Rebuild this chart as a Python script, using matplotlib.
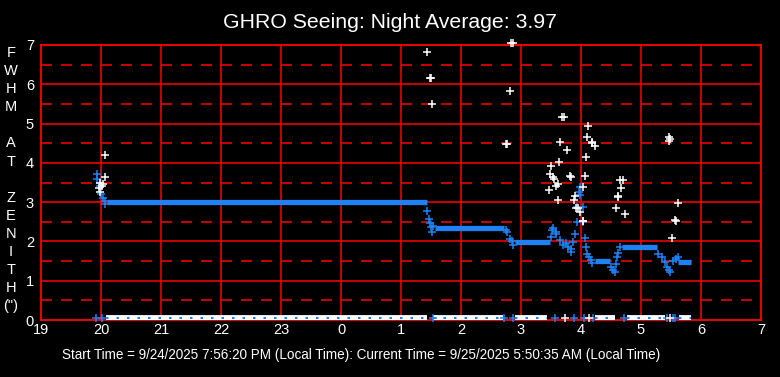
import matplotlib
matplotlib.use("Agg")
import matplotlib.pyplot as plt

plt.rcParams['font.family'] = ['Liberation Sans', 'DejaVu Sans']
plt.rcParams['lines.scale_dashes'] = False

# ---------------- data ----------------
title = "GHRO Seeing: Night Average: 3.97"
footer = "Start Time = 9/24/2025 7:56:20 PM (Local Time): Current Time = 9/25/2025 5:50:35 AM (Local Time)"
ylabel_letters = ["F", "W", "H", "M", "", "A", "T", "", "Z", "E", "N", "I", "T", "H", "(\")"]
x_ticks = [19, 20, 21, 22, 23, 24, 25, 26, 27, 28, 29, 30, 31]
x_ticklabels = ["19", "20", "21", "22", "23", "0", "1", "2", "3", "4", "5", "6", "7"]
y_ticks = [0, 1, 2, 3, 4, 5, 6, 7]

# model (blue) plateaus: start hour, end hour, value
plateau_start = [20.10, 25.57, 26.90, 28.23, 28.68, 29.62]
plateau_end = [25.43, 26.71, 27.48, 28.48, 29.26, 29.84]
plateau_val = [3.00, 2.35, 1.98, 1.49, 1.85, 1.47]

# model (blue) individual points
model_t = [19.94, 19.94, 19.98, 19.99, 20.00, 20.03, 20.07, 20.07,
           25.44, 25.46, 25.48, 25.50, 25.52, 25.54,
           26.75, 26.77, 26.81, 26.85, 26.87,
           27.50, 27.51, 27.54, 27.58, 27.59, 27.65, 27.70, 27.75, 27.79, 27.83, 27.84, 27.87, 27.90,
           27.98, 27.97, 27.99, 28.03, 27.94, 27.93, 28.04, 28.07, 28.09, 28.10, 28.14, 28.17, 28.19,
           28.50, 28.53, 28.57, 28.59, 28.60, 28.62, 28.65,
           29.29, 29.35, 29.40, 29.43, 29.46, 29.48, 29.54, 29.58, 29.61]
model_v = [3.71, 3.60, 3.49, 3.40, 3.22, 3.10, 3.03, 2.95,
           2.77, 2.56, 2.48, 2.36, 2.23, 2.39,
           2.29, 2.25, 2.05, 2.00, 1.90,
           2.12, 2.29, 2.33, 2.25, 2.20, 2.04, 1.91, 1.95, 1.87, 1.80, 1.74, 1.99, 2.18,
           3.38, 3.27, 3.18, 2.88, 2.88, 2.50, 2.50, 2.09, 1.87, 1.68, 1.61, 1.54, 1.46,
           1.36, 1.27, 1.21, 1.42, 1.61, 1.70, 1.87,
           1.68, 1.61, 1.48, 1.36, 1.27, 1.21, 1.51, 1.55, 1.60]

# measured (white) points
meas_t = [20.07, 20.06, 19.99, 20.04, 19.96, 19.98, 20.02,
          25.44, 25.48, 25.50, 25.52, 26.81, 26.83, 26.86, 26.75, 26.77,
          27.69, 27.71, 28.12, 28.10, 28.18, 28.19, 28.24, 27.65, 27.77, 28.09,
          27.50, 27.64, 27.49, 27.55, 27.53, 27.62, 27.58, 27.46, 27.82, 27.84,
          28.07, 28.04, 27.61, 27.90, 27.89, 27.95, 27.99, 28.03, 28.04, 27.91,
          28.65, 28.70, 28.66, 28.61, 28.62, 28.59, 28.74,
          29.46, 29.48, 29.46, 29.62, 29.57, 29.58, 29.52]
meas_v = [4.19, 3.63, 3.49, 3.45, 3.35, 3.25, 3.40,
          6.81, 6.15, 6.15, 5.51, 5.82, 7.05, 7.05, 4.47, 4.47,
          5.16, 5.16, 4.93, 4.65, 4.52, 4.50, 4.44, 4.52, 4.32, 4.14,
          3.91, 4.01, 3.71, 3.60, 3.63, 3.46, 3.40, 3.30, 3.67, 3.65,
          3.67, 3.38, 3.05, 3.16, 3.05, 2.84, 2.74, 2.53, 2.51, 2.84,
          3.56, 3.56, 3.35, 3.15, 3.13, 2.84, 2.71,
          4.65, 4.62, 4.55, 2.99, 2.54, 2.52, 2.10]

# zero-value (failed) measurements along the bottom
zero_seg_start = [20.08, 25.53, 26.90, 28.23, 28.76, 29.64]
zero_seg_end = [25.44, 26.70, 27.43, 28.57, 29.40, 29.84]
zero_blue_t = [19.92, 20.01, 25.53, 26.72, 26.87, 27.56, 27.88, 28.05, 28.20, 28.72, 29.43, 29.54, 29.57]
zero_white_t = [27.73, 28.14, 29.48]
zero_level = 0.045

# ---------------- figure ----------------
W, H = 780, 377
fig = plt.figure(figsize=(W / 100, H / 100), dpi=100, facecolor='black')
ax = fig.add_axes([41 / W, (H - 320) / H, 720 / W, 275 / H], facecolor='black')
ax.set_xlim(19, 31)
ax.set_ylim(0, 7)

RED = '#ff0000'
BLUE = '#1e82f5'
px = 0.72  # points per pixel
GLW = 1.1

# grid
for y in range(1, 7):
    ax.axhline(y, color=RED, lw=GLW, zorder=1, snap=True)
for y in [0.5, 1.5, 2.5, 3.5, 4.5, 5.5, 6.5]:
    ax.axhline(y, color=RED, lw=GLW, zorder=1, dashes=(11 * px, 9 * px), snap=True)
for x in range(20, 31):
    ax.axvline(x, color=RED, lw=GLW, zorder=1, snap=True)
for s in ax.spines.values():
    s.set_color(RED)
    s.set_linewidth(GLW + 0.2)

# zero row
for a, b in zip(zero_seg_start, zero_seg_end):
    ax.plot([a, b], [zero_level, zero_level], color='white', lw=4.2, solid_capstyle='butt', zorder=3)
    ax.plot([a, b], [zero_level, zero_level], color=BLUE, lw=1.5, dashes=(2.5 * px, 8 * px), zorder=4)
ax.plot(zero_blue_t, [zero_level] * len(zero_blue_t), ls='none', marker='+', ms=5.5, mew=1.1,
        color=BLUE, zorder=4, clip_on=False)
ax.plot(zero_white_t, [zero_level] * len(zero_white_t), ls='none', marker='+', ms=5.5, mew=1.1,
        color='white', zorder=4, clip_on=False)

# model plateaus and points
for a, b, v in zip(plateau_start, plateau_end, plateau_val):
    ax.plot([a, b], [v, v], color=BLUE, lw=3.8, solid_capstyle='butt', zorder=3)
ax.plot(model_t, model_v, ls='none', marker='+', ms=5.5, mew=1.1, color=BLUE, zorder=4)

# measured points
ax.plot(meas_t, meas_v, ls='none', marker='+', ms=5.5, mew=1.1, color='white', zorder=5, clip_on=False)

# ticks
ax.set_xticks(x_ticks)
ax.set_xticklabels(x_ticklabels)
ax.set_yticks(y_ticks)
ax.tick_params(axis='both', length=0, colors='white', labelsize=10.5)
ax.tick_params(axis='y', pad=5)
ax.tick_params(axis='x', pad=2.5)

# title
fig.text(0.5, 1 - 22 / H, title, color='white', fontsize=15.3, ha='center', va='center')

# y label letters
for i, ch in enumerate(ylabel_letters):
    if ch:
        fig.text(11 / W, 1 - (53 + i * 18.1) / H, ch, color='white', fontsize=10.5,
                 ha='center', va='center')

# footer
fig.text(62 / W, 1 - 355 / H, footer, color='white', fontsize=9.75, ha='left', va='center')

fig.savefig('out.png', dpi=100, facecolor='black')
